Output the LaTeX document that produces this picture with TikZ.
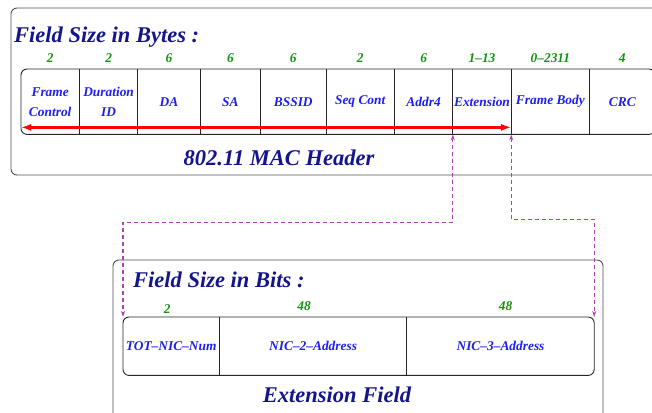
\documentclass[tikz,border=0pt]{standalone}
\usepackage{fontspec}
\setmainfont{Liberation Serif}
\usetikzlibrary{positioning,arrows.meta}

\definecolor{titleblue}{HTML}{14148C}
\definecolor{fieldblue}{HTML}{1E1EF0}
\definecolor{sizegreen}{HTML}{129412}
\definecolor{linkpurple}{HTML}{B040B8}
\definecolor{framegray}{HTML}{505050}

\newcommand\cellfont{\fontsize{13.4}{20}\selectfont\bfseries\itshape}
\newcommand\titlefont{\fontsize{22.5}{26}\selectfont\bfseries\itshape}

\tikzset{
  field/.style={inner sep=0pt, minimum height=65, align=center,
    font=\cellfont, text=fieldblue},
  subfield/.style={field, minimum height=58},
  bytes/.style={inner sep=0pt, font=\cellfont, text=sizegreen},
  heading/.style={inner sep=0pt, font=\titlefont, text=titleblue},
  outerbox/.style={draw=framegray, line width=0.9pt, rounded corners=6},
  rowline/.style={draw=black!85, line width=0.9pt},
  link/.style={draw=linkpurple, line width=1.1pt, dash pattern=on 4pt off 3pt,
    {Stealth[open,length=6pt,width=4pt]}-{Stealth[open,length=6pt,width=4pt]}}
}

\begin{document}
\begin{tikzpicture}[x=1pt, y=-1pt]
    \useasboundingbox (0,0) rectangle (652,412);

    % MAC frame box
    \draw[outerbox] (11,8) rectangle (664,175);
    \node[heading, anchor=base west] (bytestitle) at (14,43) {Field Size in Bytes :};

    % MAC fields
    \node[field, minimum width=58, anchor=north west] (fc) at (21,69) {Frame\\Control};
    \node[field, minimum width=58, right=0pt of fc] (dur) {Duration\\ID};
    \node[field, minimum width=62, right=0pt of dur] (da) {DA};
    \node[field, minimum width=60, right=0pt of da] (sa) {SA};
    \node[field, minimum width=65, right=0pt of sa] (bssid) {BSSID};
    \node[field, minimum width=68, right=0pt of bssid] (seq) {Seq Cont};
    \node[field, minimum width=58, right=0pt of seq] (addr) {Addr4};
    \node[field, minimum width=58, right=0pt of addr] (ext) {Extension};
    \node[field, minimum width=78, right=0pt of ext] (fb) {Frame Body};
    \node[field, minimum width=65, right=0pt of fb] (crc) {CRC};

    \draw[rowline, rounded corners=6] (fc.north west) rectangle (crc.south east);
    \foreach \c in {dur,da,sa,bssid,seq,addr,ext,fb,crc}
        \draw[rowline] (\c.north west) -- (\c.south west);

    % sizes
    \foreach \c/\s in {fc/2,dur/2,da/6,sa/6,bssid/6,seq/2,addr/6,ext/1--13,fb/0--2311,crc/4}
        \node[bytes, above=6pt of \c] {\s};

    % header span
    \coordinate (hdrL) at ([yshift=7]fc.south west);
    \coordinate (hdrR) at ([yshift=7]ext.south east);
    \draw[red, line width=3.2pt, {Latex[length=10pt,width=7pt]}-{Latex[length=10pt,width=7pt]}] (hdrL) -- (hdrR);
    \node[heading, anchor=base] (hdrtitle) at (279,165) {802.11 MAC Header};

    % extension field box
    \draw[outerbox] (113,260) rectangle (603,430);
    \node[heading, anchor=base west] (bitstitle) at (133,287) {Field Size in Bits :};

    \node[subfield, minimum width=96, anchor=north west] (tot) at (123,317) {TOT--NIC--Num};
    \node[subfield, minimum width=187, right=0pt of tot] (nic2) {NIC--2--Address};
    \node[subfield, minimum width=187, right=0pt of nic2] (nic3) {NIC--3--Address};

    \draw[rowline, rounded corners=6] (tot.north west) rectangle (nic3.south east);
    \foreach \c in {nic2,nic3}
        \draw[rowline] (\c.north west) -- (\c.south west);

    \node[bytes, above=3pt of tot, xshift=-4] {2};
    \node[bytes, above=6pt of nic2, xshift=-9] {48};
    \node[bytes, above=6pt of nic3, xshift=5] {48};

    \node[heading, anchor=base] (exttitle) at (337,402) {Extension Field};

    % links
    \draw[link] (ext.south west) -- ++(0,88) -| (tot.north west);
    \draw[link] (ext.south east) -- ++(0,85) -| (nic3.north east);

\end{tikzpicture}
\end{document}
